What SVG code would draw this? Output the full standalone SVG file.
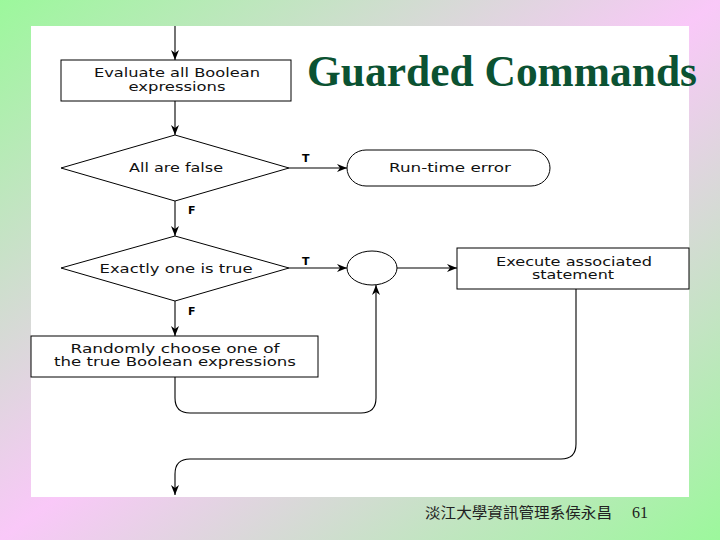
<svg xmlns="http://www.w3.org/2000/svg" width="720" height="540" viewBox="0 0 720 540">
<defs>
<linearGradient id="bg" x1="0" y1="0" x2="1" y2="1">
<stop offset="0" stop-color="#9cf89c"/>
<stop offset="0.5" stop-color="#f9c8f8"/>
<stop offset="1" stop-color="#9cf89c"/>
</linearGradient>
<marker id="arr" markerWidth="10" markerHeight="8" refX="10" refY="4" orient="auto" markerUnits="userSpaceOnUse">
<path d="M0,0 L10,4 L0,8 L3,4 z" fill="#000"/>
</marker>
<style>
.shape{fill:#fff;stroke:#000;stroke-width:1}
.line{fill:none;stroke:#000;stroke-width:1.1}
.lbl{font-family:"DejaVu Sans","Verdana",sans-serif;font-size:12px;fill:#111;text-anchor:middle}
.tf{font-family:"DejaVu Sans",sans-serif;font-size:11px;font-weight:bold;fill:#000}
</style>
</defs>
<rect x="0" y="0" width="720" height="540" fill="url(#bg)"/>
<rect x="31" y="26" width="658" height="471" fill="#fff"/>
<text x="307" y="86" font-family="'Liberation Serif','Times New Roman',serif" font-size="44" font-weight="bold" fill="#0b5232" textLength="390" lengthAdjust="spacingAndGlyphs">Guarded Commands</text>
<g id="connectors">
<line class="line" x1="175" y1="26" x2="175" y2="60" marker-end="url(#arr)"/>
<line class="line" x1="175" y1="101" x2="175" y2="135" marker-end="url(#arr)"/>
<line class="line" x1="289" y1="168" x2="347" y2="168" marker-end="url(#arr)"/>
<line class="line" x1="175" y1="201" x2="175" y2="236" marker-end="url(#arr)"/>
<line class="line" x1="289" y1="268" x2="347" y2="268" marker-end="url(#arr)"/>
<line class="line" x1="397" y1="268" x2="457" y2="268" marker-end="url(#arr)"/>
<line class="line" x1="175" y1="301" x2="175" y2="336" marker-end="url(#arr)"/>
<path class="line" d="M175,377 V398 Q175,413 190,413 H361 Q376,413 376,398 V285" marker-end="url(#arr)"/>
<path class="line" d="M576,289 V444 Q576,459 561,459 H190 Q175,459 175,474 V495" marker-end="url(#arr)"/>
<text class="tf" x="302" y="162">T</text>
<text class="tf" x="302" y="265">T</text>
<text class="tf" x="188" y="214">F</text>
<text class="tf" x="188" y="315">F</text>
</g>
<g id="evaluate">
<rect class="shape" x="61" y="60" width="230" height="41"/>
<text class="lbl" x="177" y="77" textLength="166" lengthAdjust="spacingAndGlyphs">Evaluate all Boolean</text>
<text class="lbl" x="177" y="91" textLength="97" lengthAdjust="spacingAndGlyphs">expressions</text>
</g>
<g id="allfalse">
<polygon class="shape" points="175,135 289,168 175,201 61,168"/>
<text class="lbl" x="176" y="172" textLength="94" lengthAdjust="spacingAndGlyphs">All are false</text>
</g>
<g id="runtime">
<path class="shape" d="M366,150 H531 A19,18 0 0 1 531,186 H366 A19,18 0 0 1 366,150 Z"/>
<text class="lbl" x="450" y="172" textLength="122" lengthAdjust="spacingAndGlyphs">Run-time error</text>
</g>
<g id="exactlyone">
<polygon class="shape" points="175,236 289,268 175,301 61,268"/>
<text class="lbl" x="176" y="273" textLength="153" lengthAdjust="spacingAndGlyphs">Exactly one is true</text>
</g>
<g id="junction">
<ellipse class="shape" cx="372" cy="268" rx="25" ry="17"/>
</g>
<g id="execute">
<rect class="shape" x="457" y="248" width="232" height="41"/>
<text class="lbl" x="574" y="266" textLength="156" lengthAdjust="spacingAndGlyphs">Execute associated</text>
<text class="lbl" x="573" y="279" textLength="82" lengthAdjust="spacingAndGlyphs">statement</text>
</g>
<g id="randomly">
<rect class="shape" x="31" y="336" width="287" height="41"/>
<text class="lbl" x="175" y="353" textLength="209" lengthAdjust="spacingAndGlyphs">Randomly choose one of</text>
<text class="lbl" x="175" y="366" textLength="242" lengthAdjust="spacingAndGlyphs">the true Boolean expressions</text>
</g>
<text x="425" y="518" font-family="'Noto Sans CJK TC','Noto Sans CJK SC',sans-serif" font-size="15" fill="#222" textLength="187" lengthAdjust="spacingAndGlyphs">淡江大學資訊管理系侯永昌</text>
<text x="632" y="518" font-family="'Liberation Serif',serif" font-size="16" fill="#222">61</text>
</svg>
